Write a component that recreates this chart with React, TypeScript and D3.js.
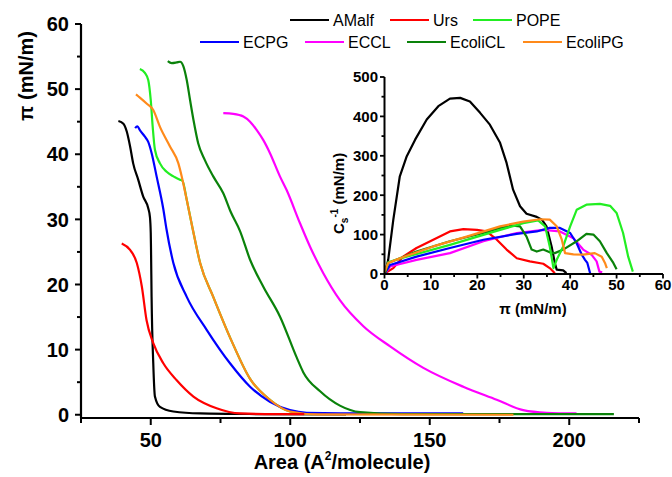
import React from 'react';
import * as d3 from 'd3';

// isotherms: [area (A^2/molecule), pi (mN/m)]
const amalfIso = [[38.4, 45.1], [40.2, 44.7], [41.4, 43.5], [42.6, 41.2], [43.7, 38.6], [45.5, 36.1], [47.3, 33.5], [49.1, 31.7], [49.7, 30.4], [50.0, 27.9], [50.1, 25.3], [50.3, 18.1], [50.9, 7.9], [51.5, 2.8], [53.3, 1.2], [58.1, 0.5], [67.7, 0.2], [90, 0.1], [120, 0.05]];
const ursIso = [[39.6, 26.3], [42.6, 25.3], [45, 23.3], [46.8, 19.7], [48.5, 14.5], [50.9, 11.0], [54.5, 7.9], [59.3, 5.3], [65.3, 2.8], [73.6, 1.0], [82, 0.2], [95, 0.1], [105, 0.1]];
const popeIso = [[46.1, 53.1], [47.9, 52.5], [49.1, 51.4], [50.0, 48.3], [50.7, 44.2], [51.5, 40.7], [53.3, 38.6], [55.7, 37.3], [58.1, 36.6], [60.5, 36.1], [61.4, 35.9], [62.9, 33.0], [65.0, 28.6], [67.7, 23.3], [72.4, 18.1], [79.0, 11.3], [85.6, 5.5], [92.7, 2.3], [99.9, 0.5], [108, 0.1]];
const ecpgIso = [[44.4, 44.0], [45.2, 44.3], [46.1, 43.7], [47.9, 42.7], [49.1, 41.9], [50.3, 40.2], [52.1, 36.6], [54.5, 31.6], [55.6, 28.6], [58.1, 23.3], [62.9, 18.1], [70.1, 13.0], [78.4, 7.9], [85.6, 4.3], [92.7, 2.0], [99.9, 0.7], [105.9, 0.3], [130, 0.2], [162, 0.2]];
const ecclIso = [[76.0, 46.3], [79.6, 46.2], [83.2, 45.8], [85.6, 45.0], [88.0, 43.7], [90.3, 42.2], [92.7, 40.2], [96.3, 36.6], [98.7, 34.5], [103.5, 29.4], [107.1, 25.8], [111.9, 21.7], [117.8, 17.6], [126.2, 13.6], [135.8, 10.5], [147.7, 7.2], [162, 4.3], [174, 2.3], [183.5, 0.7], [191.9, 0.3], [202.6, 0.2]];
const ecoliclIso = [[56.1, 54.3], [57.5, 54.0], [59.3, 54.1], [60.5, 54.2], [61.7, 53.5], [62.9, 51.4], [64.1, 48.3], [65.3, 45.3], [67.0, 41.7], [69.4, 39.1], [72.4, 36.6], [76.0, 34.0], [78.6, 31.2], [82.0, 28.2], [85.6, 23.8], [90.3, 19.7], [96.3, 15.1], [102.3, 8.8], [104.7, 6.5], [110.7, 3.6], [117.8, 1.4], [125, 0.4], [140, 0.1], [216, 0.1]];
const ecolipgIso = [[44.7, 49.2], [46.1, 48.7], [48.5, 47.8], [50.9, 46.8], [53.3, 44.2], [56.9, 41.2], [59.9, 38.6], [61.1, 36.6], [62.9, 33.0], [65.0, 28.6], [67.7, 23.3], [72.4, 18.1], [79.0, 11.3], [85.6, 5.5], [92.7, 2.3], [99.9, 0.5], [110, 0.05], [180, 0]];

// compressibility modulus: [pi (mN/m), Cs^-1 (mN/m)]
const amalfCs = [[0.1, 2], [0.8, 36], [1.9, 138], [3.3, 248], [4.8, 299], [6.6, 341], [9.1, 392], [11.6, 426], [14.1, 445], [16.3, 447], [18.4, 438], [20.6, 409], [22.7, 379], [24.9, 333], [26.3, 282], [27.7, 214], [29.2, 172], [30.6, 153], [32.8, 145], [33.9, 138], [34.9, 121], [36.0, 70], [36.7, 28], [37.1, 11], [38.5, 9], [39.2, 2]];
const ursCs = [[0.1, 2], [1.9, 15], [4.0, 44], [6.9, 66], [10.5, 87], [14.1, 108], [17.0, 114], [19.9, 112], [22.0, 108], [24.2, 87], [26.3, 62], [28.5, 40], [31.3, 32], [34.2, 26], [35.6, 15], [36.7, 2]];
const popeCs = [[0.1, 5], [0.8, 30], [3.0, 38], [14.1, 74], [24.9, 112], [29.9, 129], [33.1, 136], [34.6, 121], [35.6, 70], [36.4, 15], [37.1, 36], [38.5, 70], [40.0, 121], [41.4, 163], [43.5, 176], [46.4, 178], [48.6, 173], [50.0, 155], [51.4, 104], [52.5, 44], [53.5, 6]];
const ecpgCs = [[0.1, 2], [1.2, 23], [6.9, 44], [14.1, 66], [21.3, 87], [28.5, 102], [32.8, 108], [35.6, 117], [37.8, 117], [40.0, 104], [41.4, 78], [42.5, 49], [43.2, 36], [43.7, 28], [44.3, 2]];
const ecclCs = [[0.1, 2], [1.2, 19], [6.9, 36], [14.1, 53], [21.3, 83], [28.5, 104], [34.2, 112], [37.8, 108], [40.7, 91], [42.8, 62], [44.6, 49], [45.7, 32], [46.3, 6], [46.9, 4]];
const ecoliclCs = [[0.1, 2], [0.8, 28], [6.9, 57], [14.1, 83], [21.3, 104], [24.9, 117], [27.7, 123], [29.2, 121], [30.6, 95], [31.7, 62], [32.8, 57], [34.2, 62], [35.6, 55], [36.7, 53], [38.5, 62], [41.4, 83], [43.5, 102], [45.0, 100], [46.4, 83], [47.9, 53], [49.3, 28], [50.0, 12]];
const ecolipgCs = [[0, 5], [0.8, 28], [3.3, 40], [10.5, 70], [17.7, 95], [24.9, 121], [29.9, 133], [33.5, 139], [35.6, 138], [37.1, 121], [38.2, 87], [38.9, 53], [40.7, 50], [42.8, 49], [45.3, 53], [46.8, 44], [47.5, 28], [47.9, 15]];

const legendRow1 = ['AMalf', 'Urs', 'POPE'];
const legendRow2 = ['ECPG', 'ECCL', 'EcoliCL', 'EcoliPG'];

const colors = {
  AMalf: '#000000',
  Urs: '#ff0000',
  POPE: '#22ee22',
  ECPG: '#0000ff',
  ECCL: '#ff00ff',
  EcoliCL: '#0a820a',
  EcoliPG: '#ff8a1a',
};

// drawing order (last on top)
const isoSeries = [
  ['AMalf', amalfIso], ['POPE', popeIso], ['ECPG', ecpgIso], ['ECCL', ecclIso],
  ['EcoliCL', ecoliclIso], ['EcoliPG', ecolipgIso], ['Urs', ursIso],
];
const csSeries = [
  ['AMalf', amalfCs], ['Urs', ursCs], ['ECCL', ecclCs], ['ECPG', ecpgCs],
  ['EcoliCL', ecoliclCs], ['POPE', popeCs], ['EcoliPG', ecolipgCs],
];

const font = 'Arial, "Liberation Sans", sans-serif';

export default function App() {
  const width = 672;
  const height = 477;

  const x = d3.scaleLinear().domain([25, 225]).range([81, 639]);
  const y = d3.scaleLinear().domain([-0.5, 60]).range([418, 24]);

  const xi = d3.scaleLinear().domain([0, 60]).range([384.5, 663]);
  const yi = d3.scaleLinear().domain([0, 500]).range([274, 77]);

  const line = d3.line()
    .x(d => x(d[0]))
    .y(d => y(d[1]))
    .curve(d3.curveMonotoneX);

  const lineInset = d3.line()
    .x(d => xi(d[0]))
    .y(d => yi(d[1]))
    .curve(d3.curveLinear);

  const xMinor = d3.range(25, 226, 50);
  const yMinor = d3.range(5, 60, 10);
  const xiMinor = d3.range(5, 60, 10);
  const yiMinor = d3.range(50, 500, 100);

  const legendItem = (name, lx, ly) => (
    <g key={name}>
      <line x1={lx} x2={lx + 39} y1={ly} y2={ly} stroke={colors[name]} strokeWidth={2.2} />
      <text x={lx + 43} y={ly} dy="0.35em" fontSize={16} fontFamily={font}>{name}</text>
    </g>
  );
  const row1X = [290, 390, 473];
  const row2X = [200, 305, 407, 523];

  return (
    <svg width={width} height={height} style={{ position: 'absolute', left: 0, top: 0, background: '#fff' }}>
      {/* main curves */}
      {isoSeries.map(([name, pts]) => (
        <path key={name} d={line(pts)} fill="none" stroke={colors[name]} strokeWidth={2.2} strokeLinejoin="round" />
      ))}

      {/* main axes */}
      <line x1={81} x2={81} y1={y(60)} y2={418} stroke="#000" strokeWidth={2.2} />
      <line x1={80} x2={639} y1={418} y2={418} stroke="#000" strokeWidth={2.2} />
      {y.ticks(6).map(t => (
        <g key={'y' + t}>
          <line x1={75} x2={81} y1={y(t)} y2={y(t)} stroke="#000" strokeWidth={2} />
          <text x={69} y={y(t)} dy="0.36em" textAnchor="end" fontSize={20} fontWeight="bold" fontFamily={font}>{t}</text>
        </g>
      ))}
      {yMinor.map(t => (
        <line key={'ym' + t} x1={77} x2={81} y1={y(t)} y2={y(t)} stroke="#000" strokeWidth={2} />
      ))}
      {x.ticks(4).map(t => (
        <g key={'x' + t}>
          <line x1={x(t)} x2={x(t)} y1={418} y2={425} stroke="#000" strokeWidth={2} />
          <text x={x(t)} y={447} textAnchor="middle" fontSize={20} fontWeight="bold" fontFamily={font}>{t}</text>
        </g>
      ))}
      {xMinor.map(t => (
        <line key={'xm' + t} x1={x(t)} x2={x(t)} y1={418} y2={423} stroke="#000" strokeWidth={2} />
      ))}
      <text x={342} y={469} textAnchor="middle" fontSize={20} fontWeight="bold" fontFamily={font}>
        Area (A<tspan fontSize={12} dy={-9}>2</tspan><tspan dy={9}>/molecule)</tspan>
      </text>
      <text transform="translate(33,76) rotate(-90)" textAnchor="middle" fontSize={20} fontWeight="bold" fontFamily={font}>
        π (mN/m)
      </text>

      {/* legend */}
      {legendRow1.map((n, i) => legendItem(n, row1X[i], 20))}
      {legendRow2.map((n, i) => legendItem(n, row2X[i], 42))}

      {/* inset */}
      {csSeries.map(([name, pts]) => (
        <path key={'c' + name} d={lineInset(pts)} fill="none" stroke={colors[name]} strokeWidth={2.2} strokeLinejoin="round" />
      ))}
      <line x1={384.5} x2={384.5} y1={yi(500)} y2={274} stroke="#000" strokeWidth={2} />
      <line x1={383.5} x2={663} y1={274} y2={274} stroke="#000" strokeWidth={2} />
      {yi.ticks(5).map(t => (
        <g key={'yi' + t}>
          <line x1={380} x2={384.5} y1={yi(t)} y2={yi(t)} stroke="#000" strokeWidth={1.8} />
          <text x={378} y={yi(t)} dy="0.36em" textAnchor="end" fontSize={15} fontWeight="bold" fontFamily={font}>{t}</text>
        </g>
      ))}
      {yiMinor.map(t => (
        <line key={'yim' + t} x1={381.5} x2={384.5} y1={yi(t)} y2={yi(t)} stroke="#000" strokeWidth={1.8} />
      ))}
      {xi.ticks(6).map(t => (
        <g key={'xi' + t}>
          <line x1={xi(t)} x2={xi(t)} y1={274} y2={278.5} stroke="#000" strokeWidth={1.8} />
          <text x={xi(t)} y={290} textAnchor="middle" fontSize={15} fontWeight="bold" fontFamily={font}>{t}</text>
        </g>
      ))}
      {xiMinor.map(t => (
        <line key={'xim' + t} x1={xi(t)} x2={xi(t)} y1={274} y2={277} stroke="#000" strokeWidth={1.8} />
      ))}
      <text x={533} y={314} textAnchor="middle" fontSize={15} fontWeight="bold" fontFamily={font}>π (mN/m)</text>
      <text transform="translate(344,234) rotate(-90)" textAnchor="start" fontSize={15} fontWeight="bold" fontFamily={font}>
        C<tspan fontSize={10} dy={4}>s</tspan><tspan fontSize={10} dy={-10}>-1</tspan><tspan dy={6}> (mN/m)</tspan>
      </text>
    </svg>
  );
}
